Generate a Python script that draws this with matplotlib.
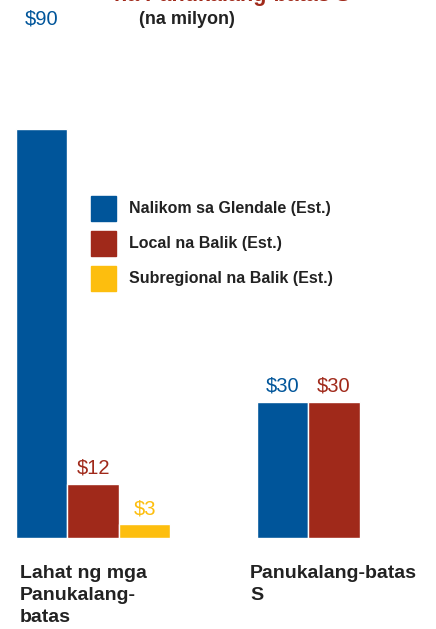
import numpy as np
import matplotlib
matplotlib.use("Agg")
import matplotlib.pyplot as plt
from matplotlib.patches import Rectangle

plt.rcParams['font.family'] = ['Liberation Sans', 'DejaVu Sans']

# data (in millions)
categories = ['Lahat ng mga\nPanukalang-\nbatas', 'Panukalang-batas\nS']
series = ['Nalikom sa Glendale (Est.)', 'Local na Balik (Est.)', 'Subregional na Balik (Est.)']
glendale = [90, 30]
local = [12, 30]
subregional = [3, np.nan]
colors = ['#00559A', '#A0291A', '#FDBE0E']
label_top = 112.3  # the tallest bar's label sits at the top of the chart

W, H = 436, 629
fig = plt.figure(figsize=(W / 100, H / 100), dpi=100)
ax = fig.add_axes([0, (H - 538) / H, 1, 538 / H])

x = np.arange(len(categories))
w = 0.2137
vmax = np.nanmax([glendale, local, subregional])
for i, (name, vals, col) in enumerate(zip(series, [glendale, local, subregional], colors)):
    vals = np.array(vals, dtype=float)
    pos = x + (i - 1) * w
    ok = ~np.isnan(vals)
    ax.bar(pos[ok], vals[ok], width=w, color=col, edgecolor='white', linewidth=1)
    for p, v in zip(pos[ok], vals[ok]):
        ly = label_top if v == vmax else v + 1.4
        ax.text(p, ly, f'${v:.0f}', ha='center', va='bottom', fontsize=14.5, color=col)

ax.set_xlim(-93 / 241, (W - 93) / 241)
ax.set_ylim(0, 538 / 4.54)
ax.axis('off')

# legend: coloured squares with bold labels
for i, (name, col) in enumerate(zip(series, colors)):
    top = 196 + i * 35
    fig.patches.append(Rectangle((91 / W, 1 - (top + 25) / H), 25 / W, 25 / H,
                                 transform=fig.transFigure, color=col))
    fig.text(129 / W, 1 - (top + 12.5) / H, name, ha='left', va='center',
             fontsize=11.5, fontweight='bold', color='#222222')

# category labels under groups
for xp, cat in zip([20, 250], categories):
    fig.text(xp / W, 1 - 565 / H, cat, ha='left', va='top', fontsize=14,
             fontweight='bold', color='#222222', linespacing=1.38)

# title (cut off at the top) and subtitle
fig.text(232 / W, 1 - 1 / H, 'na Panukalang-batas S', ha='center', va='baseline',
         fontsize=15.5, fontweight='bold', color='#A0291A')
fig.text(187 / W, 1 - 20 / H, '(na milyon)', ha='center', va='center',
         fontsize=13, fontweight='bold', color='#222222')

fig.savefig('out.png', dpi=100)
